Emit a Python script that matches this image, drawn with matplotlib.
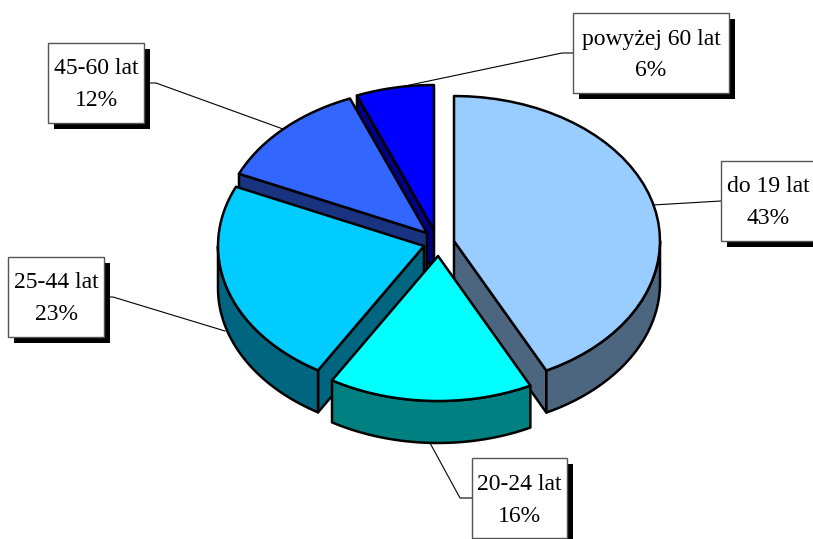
import numpy as np
import matplotlib
matplotlib.use('Agg')
import matplotlib.pyplot as plt
from matplotlib.patches import Polygon, Rectangle

plt.rcParams['font.family'] = ['Liberation Serif', 'DejaVu Serif']

labels = ['do 19 lat', '20-24 lat', '25-44 lat', '45-60 lat', 'powyżej 60 lat']
values = [42.6, 16.0, 23.1, 12.2, 6.1]
top_colors = ['#99CCFF', '#00FFFF', '#00CCFF', '#3366FF', '#0000FF']
side_colors = ['#4D6680', '#008080', '#006680', '#1A3380', '#000080']

# wierzcholki wycinkow po "wysunieciu"
apex = [(454, 241), (438, 256), (424, 246), (427, 233), (434, 230)]
RX, RY, DEPTH = 206, 145, 42

# ramki opisow: x, y, szer, wys
boxes = [(721, 161, 100, 80), (472, 458, 95, 80), (8, 257, 96, 80),
         (48, 43, 96, 80), (573, 13, 156, 80)]
leaders = [[(721, 201), (653, 205)],
           [(472, 498), (460, 498), (430, 443)],
           [(104, 297), (113, 297), (225, 331)],
           [(144, 83), (156, 83), (283, 129)],
           [(573, 53), (562, 53), (405, 86)]]

fig = plt.figure(figsize=(8.13, 5.39), dpi=100)
ax = fig.add_axes([0, 0, 1, 1])
ax.set_xlim(0, 813)
ax.set_ylim(539, 0)
ax.axis('off')


def arc(i, a0, a1, n=40):
    t = np.radians(np.linspace(a0, a1, n))
    cx, cy = apex[i]
    return np.column_stack([cx + RX * np.sin(t), cy - RY * np.cos(t)])


def draw_slice(i, a0, a1):
    edge = arc(i, a0, a1)
    c = np.array(apex[i], dtype=float)
    mid = edge[len(edge) // 2]
    down = np.array([0, DEPTH])
    kw = dict(facecolor=side_colors[i], edgecolor='black', lw=1.8, joinstyle='round')
    # sciany przekroju - tylko te widoczne od przodu
    for p in (edge[0], edge[-1]):
        d = p - c
        n = np.array([-d[1], d[0]])
        if np.dot(n, mid - c) > 0:
            n = -n
        if n[1] > 1e-6:
            ax.add_patch(Polygon([c, p, p + down, c + down], **kw))
    # sciana zewnetrzna - przednia czesc elipsy
    lo, hi = max(a0, 90), min(a1, 270)
    if hi > lo:
        front = arc(i, lo, hi)
        ax.add_patch(Polygon(np.vstack([front, (front + down)[::-1]]), **kw))
    # wierzch
    ax.add_patch(Polygon(np.vstack([c, edge]), facecolor=top_colors[i],
                         edgecolor='black', lw=1.8, joinstyle='round'))


angles = np.cumsum([0] + values) * 3.6
for i in [4, 3, 2, 0, 1]:
    draw_slice(i, angles[i], angles[i + 1])

for i in range(len(values)):
    pts = np.array(leaders[i])
    ax.plot(pts[:, 0], pts[:, 1], color='black', lw=0.8, zorder=5)
    x, y, w, h = boxes[i]
    ax.add_patch(Rectangle((x + 6, y + 6), w, h, facecolor='black', edgecolor='none', zorder=6))
    ax.add_patch(Rectangle((x, y), w, h, facecolor='white', edgecolor='#555555', lw=1, zorder=7))
    cx = x + 47 if i == 0 else x + w / 2
    ax.text(cx, y + 26, labels[i], ha='center', va='center', fontsize=17, zorder=8)
    ax.text(cx, y + 58, f'{values[i]:.0f}%', ha='center', va='center', fontsize=17, zorder=8)

fig.savefig('out.png', dpi=100)
